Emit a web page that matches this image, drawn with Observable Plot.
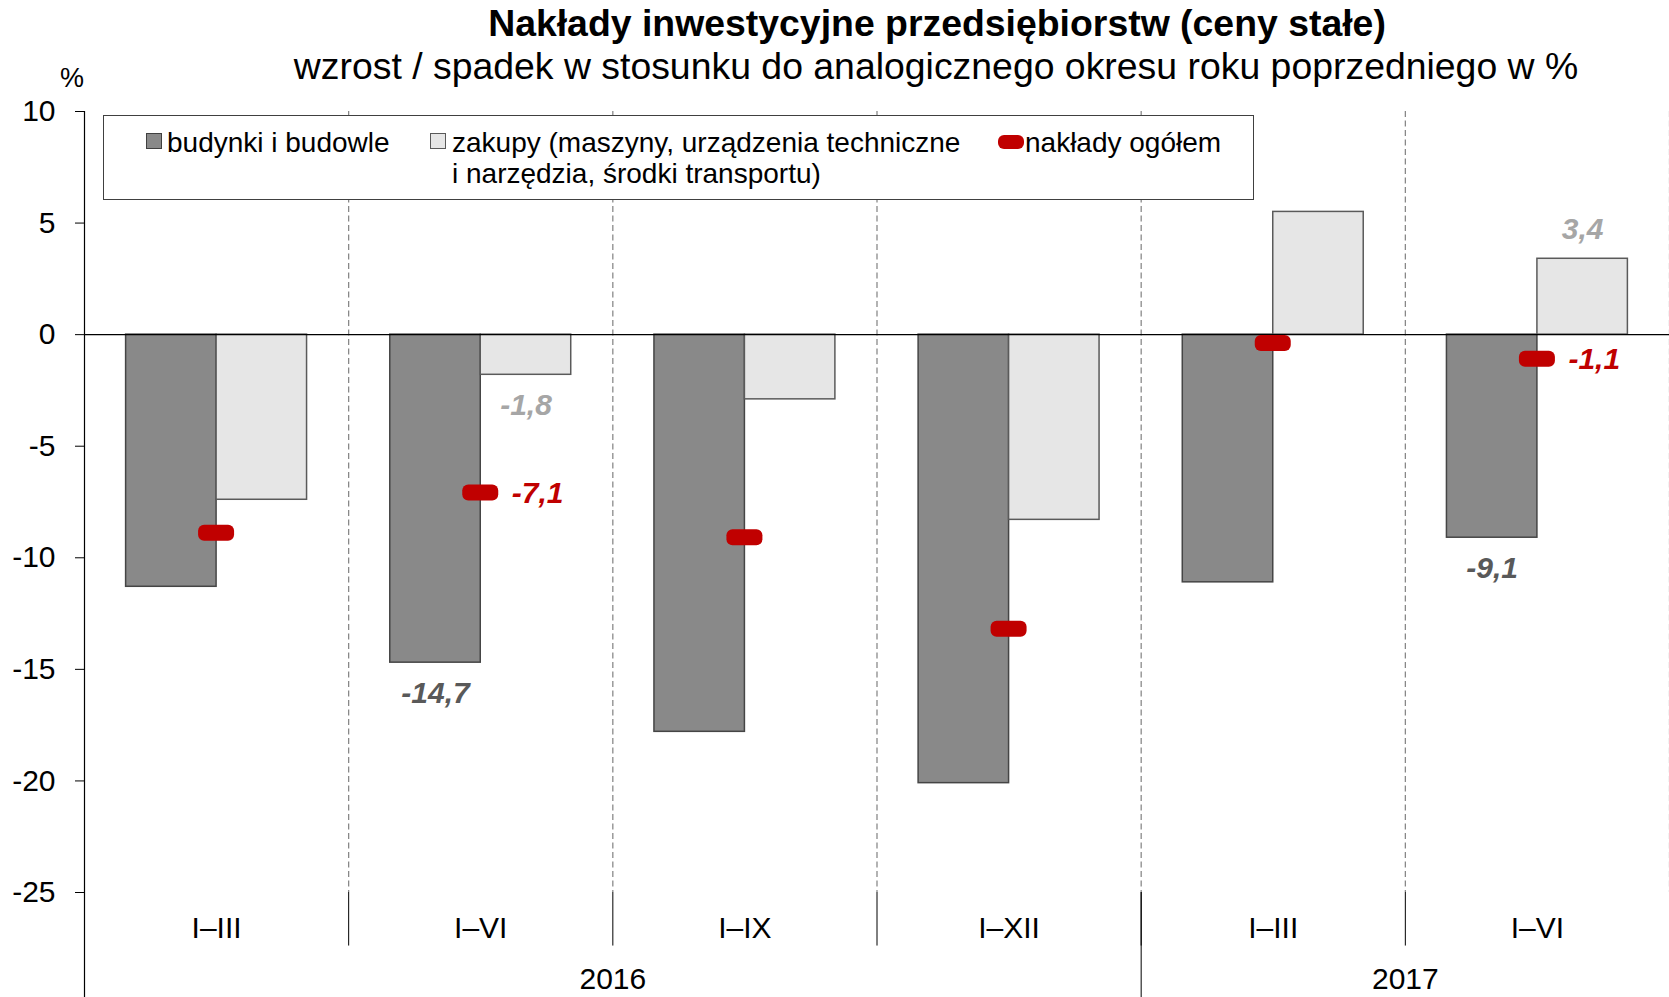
<!DOCTYPE html>
<html>
<head>
<meta charset="utf-8">
<script src="https://cdn.jsdelivr.net/npm/d3@7"></script>
<script src="https://cdn.jsdelivr.net/npm/@observablehq/plot@0.6"></script>
<style>
  html, body { margin: 0; padding: 0; background: #fff; }
  body { font-family: "Liberation Sans", Arial, sans-serif; color: #000; }
  #wrap { position: relative; width: 1669px; height: 997px; overflow: hidden; }
  #chart { position: absolute; left: 0; top: 0; }
  .abs { position: absolute; white-space: nowrap; }
  #title { left: 937px; top: 2px; transform: translateX(-50%); font-size: 37.4px; font-weight: bold; line-height: 42px; }
  #subtitle { left: 936px; top: 45px; transform: translateX(-50%); font-size: 37.4px; line-height: 42px; }
  #unit { left: 60px; top: 63px; font-size: 27px; line-height: 30px; }
  #legend { left: 103px; top: 115px; width: 1149px; height: 83px; border: 1px solid #404040; background: #fff; }
  .sw { position: absolute; width: 14px; height: 14px; }
  .lt { position: absolute; font-size: 28px; line-height: 31px; white-space: nowrap; }
</style>
</head>
<body>
<div id="wrap">
  <div id="chart"></div>
  <div id="title" class="abs">Nakłady inwestycyjne przedsiębiorstw (ceny stałe)</div>
  <div id="subtitle" class="abs">wzrost / spadek w stosunku do analogicznego okresu roku poprzedniego w %</div>
  <div id="unit" class="abs">%</div>
  <div id="legend" class="abs">
    <div class="sw" style="left:42px; top:17px; background:#898989; border:1px solid #404040;"></div>
    <div class="lt" style="left:63px; top:11px;">budynki i budowle</div>
    <div class="sw" style="left:326px; top:17px; background:#e6e6e6; border:1px solid #595959;"></div>
    <div class="lt" style="left:348px; top:11px;">zakupy (maszyny, urządzenia techniczne<br>i narzędzia, środki transportu)</div>
    <div class="sw" style="left:894px; top:19px; width:26px; height:14px; border-radius:6px; background:#c00000;"></div>
    <div class="lt" style="left:921px; top:11px;">nakłady ogółem</div>
  </div>
</div>
<script>
// ---- data ----
const periods = ["I–III", "I–VI", "I–IX", "I–XII", "I–III", "I–VI"];
const years   = ["2016", "2016", "2016", "2016", "2017", "2017"];
const budynki = [-11.3, -14.7, -17.8, -20.1, -11.1, -9.1];   // budynki i budowle
const zakupy  = [-7.4, -1.8, -2.9, -8.3, 5.5, 3.4];          // zakupy (maszyny, ...)
const ogolem  = [-8.9, -7.1, -9.1, -13.2, -0.4, -1.1];       // nakłady ogółem
const yTicks  = [10, 5, 0, -5, -10, -15, -20, -25];
const labeledIdx = [1, 5];   // categories whose values are annotated

// ---- derived tables ----
const rows = periods.map((p, i) => ({i, period: p, year: years[i], b: budynki[i], z: zakupy[i], o: ogolem[i]}));
const boundaries = periods.map((_, i) => i + 0.5);
const yearGroups = Array.from(d3.group(rows, d => d.year), ([year, rs]) => ({year, center: d3.mean(rs, r => r.i), end: d3.max(rs, r => r.i) + 0.5}));
const yearDividers = yearGroups.slice(0, -1).map(g => g.end);
const labeled = rows.filter(r => labeledIdx.includes(r.i));
const fmt = v => v.toFixed(1).replace(".", ",");

const half = 0.3425;      // bar width in category units
const yBottom = -29.8;     // bottom of the page in y units (axis line / year divider)
const yCatLine = -27.4;    // end of category separators
const lbl = {fontWeight: "bold", fontStyle: "italic", fontSize: 30};

const chart = Plot.plot({
  width: 1669,
  height: 997,
  marginLeft: 84,
  marginRight: 0,
  marginTop: 111,
  marginBottom: 105,
  style: {fontFamily: "'Liberation Sans', Arial, sans-serif", fontSize: "30px", background: "#fff", color: "#000", overflow: "visible"},
  x: {domain: [-0.5, periods.length - 0.5], axis: null},
  y: {domain: [-25, 10], axis: null},
  marks: [
    Plot.ruleX(boundaries, {y1: 10, y2: -25, stroke: "#808080", strokeWidth: 1.2, strokeDasharray: "6,3.5"}),
    Plot.ruleX(boundaries, {y1: -25, y2: yCatLine, stroke: "#000", strokeWidth: 1}),
    Plot.ruleX(yearDividers, {y1: -25, y2: yBottom, stroke: "#000", strokeWidth: 1}),
    Plot.rectY(rows, {x1: d => d.i - half, x2: d => d.i, y1: 0, y2: "b", fill: "#898989", stroke: "#454545", strokeWidth: 1.5}),
    Plot.rectY(rows, {x1: d => d.i, x2: d => d.i + half, y1: 0, y2: "z", fill: "#e6e6e6", stroke: "#5a5a5a", strokeWidth: 1.5}),
    Plot.ruleY([0], {stroke: "#000", strokeWidth: 1.2}),
    Plot.ruleX([-0.5], {y1: 10, y2: yBottom, stroke: "#000", strokeWidth: 1.2}),
    Plot.axisY(yTicks, {anchor: "left", tickSize: 9, tickPadding: 20, fontSize: 30, tickFormat: d => String(d), label: null, stroke: "#000"}),
    Plot.rect(rows, {x1: "i", x2: "i", y1: "o", y2: "o", insetLeft: -18, insetRight: -18, insetTop: -8, insetBottom: -8, rx: 6, fill: "#c00000"}),
    Plot.text(labeled, {x: d => d.i - half / 2, y: "b", dy: 31, text: d => fmt(d.b), fill: "#595959", ...lbl}),
    Plot.text(labeled, {x: d => d.i + half / 2, y: "z", text: d => fmt(d.z), fill: "#a6a6a6", ...lbl, filter: d => d.z < 0, dy: 31}),
    Plot.text(labeled, {x: d => d.i + half / 2, y: "z", text: d => fmt(d.z), fill: "#a6a6a6", ...lbl, filter: d => d.z >= 0, dy: -29}),
    Plot.text(labeled, {x: "i", y: "o", dx: 31, textAnchor: "start", text: d => fmt(d.o), fill: "#c00000", ...lbl}),
    Plot.text(rows, {x: "i", y: -25, dy: 36, text: "period", fill: "#000", fontSize: 30}),
    Plot.text(yearGroups, {x: "center", y: -25, dy: 87, text: "year", fill: "#000", fontSize: 30})
  ]
});
document.getElementById("chart").appendChild(chart);
</script>
</body>
</html>
